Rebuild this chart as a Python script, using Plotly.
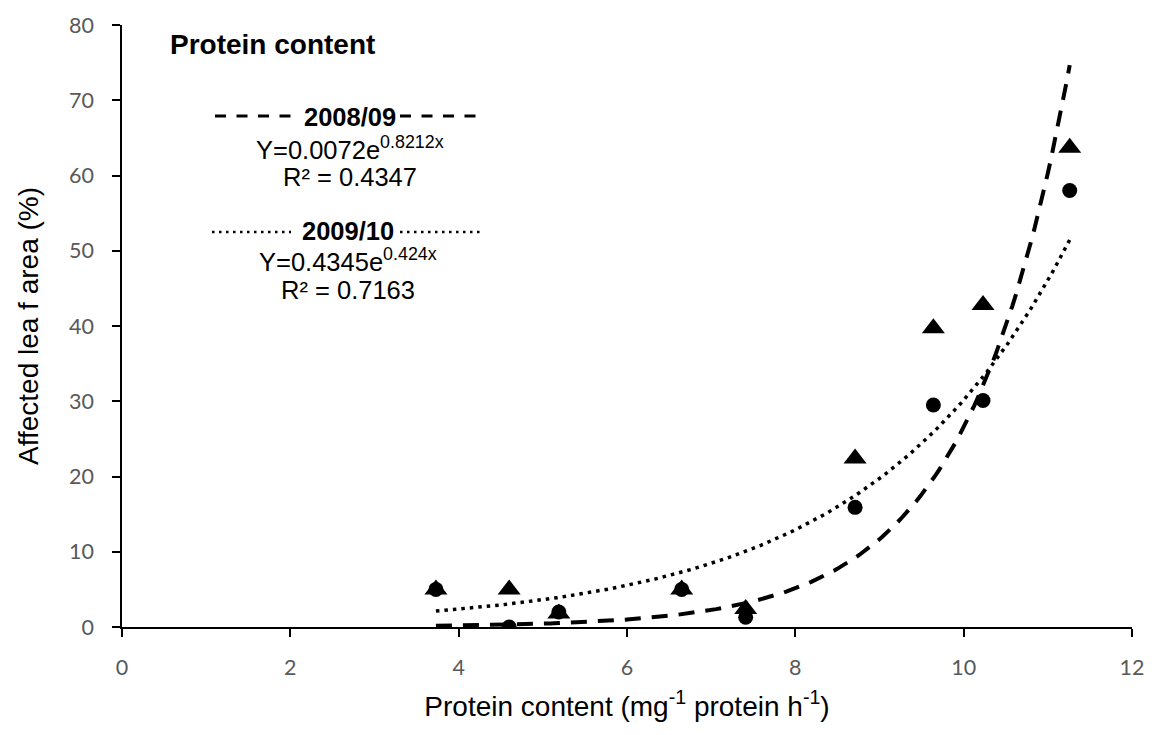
import numpy as np
import plotly.graph_objects as go

# Protein content per genotype and affected leaf area in both seasons
protein = [3.73, 4.60, 5.19, 6.65, 7.41, 8.71, 9.64, 10.23, 11.26]
area_0809 = [5.0, 0.0, 2.0, 5.0, 1.3, 15.9, 29.5, 30.1, 58.0]
area_0910 = [5.0, 5.0, 1.8, 5.0, 2.4, 22.4, 39.7, 42.8, 63.7]

# Exponential trend lines y = a * exp(b * x)
fit_0809 = (0.0072, 0.8212)
fit_0910 = (0.4345, 0.424)

xs = np.linspace(min(protein), max(protein), 200)
trend_0809 = fit_0809[0] * np.exp(fit_0809[1] * xs)
trend_0910 = fit_0910[0] * np.exp(fit_0910[1] * xs)

fig = go.Figure()

fig.add_trace(go.Scatter(x=xs, y=trend_0809, mode="lines",
                         line=dict(color="black", width=4, dash="16px,11px"),
                         hoverinfo="skip"))
fig.add_trace(go.Scatter(x=xs, y=trend_0910, mode="lines",
                         line=dict(color="black", width=3.5, dash="3.5px,5px"),
                         hoverinfo="skip"))
fig.add_trace(go.Scatter(x=protein, y=area_0809, mode="markers",
                         marker=dict(symbol="circle", size=15, color="black"),
                         name="2008/09"))
fig.add_trace(go.Scatter(x=protein, y=area_0910, mode="markers",
                         marker=dict(symbol="triangle-up", size=20, color="black",
                                     line=dict(width=0)),
                         name="2009/10"))

L, R, T, B = 122, 26, 19, 108
W, H = 1158, 735
pw, ph = W - L - R, H - T - B


def px(xp):
    return (xp - L) / pw


def py(yp):
    return (H - B - yp) / ph


arial = "Liberation Sans, Arial"
label_font = dict(family=arial, size=25.5, color="black")
annotations = [
    dict(x=px(168), y=py(39), text="<b>Protein content</b>", xanchor="left",
         font=dict(family=arial, size=28, color="black")),
    dict(x=px(350), y=py(112), text="<b>2008/09</b>", font=label_font),
    dict(x=px(350), y=py(143), text="Y=0.0072e<sup>0.8212x</sup>", font=label_font),
    dict(x=px(350), y=py(173), text="R² = 0.4347", font=label_font),
    dict(x=px(348), y=py(227), text="<b>2009/10</b>", font=label_font),
    dict(x=px(348), y=py(256), text="Y=0.4345e<sup>0.424x</sup>", font=label_font),
    dict(x=px(348), y=py(287), text="R² = 0.7163", font=label_font),
]
for a in annotations:
    a.update(xref="paper", yref="paper", showarrow=False, yanchor="middle")
    a.setdefault("xanchor", "center")

dash_key = dict(color="black", width=3, dash="11px,10.5px")
dot_key = dict(color="black", width=2.5, dash="2.5px,4.5px")
shapes = [
    dict(type="line", x0=px(215), x1=px(297), y0=py(111), y1=py(111), line=dash_key),
    dict(type="line", x0=px(400), x1=px(480), y0=py(111), y1=py(111), line=dash_key),
    dict(type="line", x0=px(212), x1=px(291), y0=py(228), y1=py(228), line=dot_key),
    dict(type="line", x0=px(400), x1=px(481), y0=py(228), y1=py(228), line=dot_key),
]
for s in shapes:
    s.update(xref="paper", yref="paper")

tick_font = dict(family="Lato, Open Sans", size=21.5, color="#595959")
title_font = dict(family=arial, size=28, color="black")

fig.update_layout(
    width=W, height=H,
    margin=dict(l=L, r=R, t=T, b=B),
    plot_bgcolor="white", paper_bgcolor="white",
    showlegend=False,
    annotations=annotations,
    shapes=shapes,
    xaxis=dict(range=[0, 12], tickvals=[0, 2, 4, 6, 8, 10, 12],
               showline=True, linecolor="black", linewidth=1.5,
               ticks="outside", ticklen=8, tickcolor="black", tickwidth=1.5,
               ticklabelstandoff=12,
               showgrid=False, zeroline=False, tickfont=tick_font,
               title=dict(text="Protein content (mg<sup>-1</sup> protein h<sup>-1</sup>)",
                          font=title_font, standoff=18)),
    yaxis=dict(range=[0, 80], tickvals=list(range(0, 81, 10)),
               showline=True, linecolor="black", linewidth=1.5,
               ticks="outside", ticklen=8, tickcolor="black", tickwidth=1.5,
               ticklabelstandoff=14,
               showgrid=False, zeroline=False, tickfont=tick_font,
               title=dict(text="Affected lea f area (%)", font=title_font, standoff=22)),
)

fig.write_html("out.html")
